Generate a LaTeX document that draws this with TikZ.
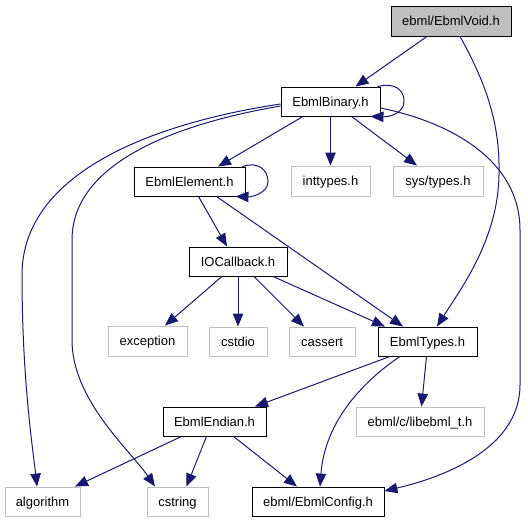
\documentclass[tikz,border=0pt]{standalone}
\usepackage{fontspec}
\setmainfont{Liberation Sans}
\usetikzlibrary{arrows.meta}
\definecolor{edgeblue}{RGB}{25,25,112}
\definecolor{lgray}{RGB}{191,191,191}
\begin{document}
\begin{tikzpicture}[x=1pt,y=-1pt,
  box/.style={draw=black,line width=0.9pt,inner sep=0pt,font=\fontsize{13}{15}\selectfont,text height=9.4pt,text depth=0.4pt,minimum height=29pt},
  sysbox/.style={box,draw=lgray},
  dep/.style={draw=edgeblue,line width=1pt,-{Triangle[length=13pt,width=10.5pt]}},
]
\useasboundingbox (0,0) rectangle (528,523);
\fill[white] (0,0) rectangle (528,523);
% nodes
\node[box,fill=lgray,minimum width=120pt,minimum height=30pt] (void) at (451,21) {ebml/EbmlVoid.h};
\node[box,minimum width=99pt] (binary) at (330.5,101.5) {EbmlBinary.h};
\node[box,minimum width=111pt] (element) at (189.5,181.5) {EbmlElement.h};
\node[sysbox,minimum width=79pt,minimum height=30pt] (inttypes) at (330.5,181) {inttypes.h};
\node[sysbox,minimum width=90pt,minimum height=30pt] (systypes) at (438,181) {sys/types.h};
\node[box,minimum width=98pt] (iocb) at (238,261.5) {IOCallback.h};
\node[sysbox,minimum width=79pt,minimum height=30pt] (exception) at (147.5,341) {exception};
\node[sysbox,minimum width=58pt] (cstdio) at (238,341.5) {cstdio};
\node[sysbox,minimum width=66pt] (cassert) at (322,341.5) {cassert};
\node[box,minimum width=99pt] (types) at (427.5,341.5) {EbmlTypes.h};
\node[sysbox,minimum width=128pt] (libt) at (420,421.5) {ebml/c/libebml\_t.h};
\node[box,minimum width=103pt] (endian) at (214.5,421.5) {EbmlEndian.h};
\node[sysbox,minimum width=75pt] (algorithm) at (42.5,501.5) {algorithm};
\node[sysbox,minimum width=61pt] (cstring) at (177.5,501.5) {cstring};
\node[box,minimum width=132pt] (config) at (318,501.5) {ebml/EbmlConfig.h};
% edges
\draw[dep] ([xshift=-24pt]void.south) -- ([xshift=25pt]binary.north);
\draw[dep] ([xshift=9pt]void.south) .. controls (490,90) and (500,130) .. (499,175)
  .. controls (498,240) and (460,290) .. ([xshift=9.5pt]types.north);
\draw[dep] ([xshift=-3pt]binary.north east) .. controls (395,82) and (404,90) .. (404,101)
  .. controls (404,113) and (390,117) .. ([xshift=-10pt]binary.south east);
\draw[dep] ([xshift=-27.5pt]binary.south) -- ([xshift=28.5pt]element.north);
\draw[dep] (binary.south) -- (inttypes.north);
\draw[dep] ([xshift=21pt]binary.south) -- ([xshift=-21pt]systypes.north);
\draw[dep] ([yshift=-2.5pt]binary.west) .. controls (160,122) and (22,170) .. (22,275)
  .. controls (22,380) and (33,450) .. ([xshift=-5.5pt]algorithm.north);
\draw[dep] ([yshift=-4.5pt]binary.west) .. controls (170,125) and (72,165) .. (72,240)
  -- (72,340) .. controls (72,400) and (130,450) .. ([xshift=-22.5pt]cstring.north);
\draw[dep] ([yshift=-6.5pt]binary.east) .. controls (450,122) and (520,160) .. (520,230)
  -- (520,385) .. controls (520,450) and (440,478) .. ([yshift=10.5pt]config.east);
\draw[dep] ([xshift=-3pt]element.north east) .. controls (258,161) and (268,170) .. (268,181.5)
  .. controls (268,193) and (252,197) .. ([xshift=-10pt]element.south east);
\draw[dep] ([xshift=9pt]element.south) -- ([xshift=-11pt]iocb.north);
\draw[dep] ([xshift=27pt]element.south) -- ([xshift=-24.5pt]types.north);
\draw[dep] ([xshift=-16pt]iocb.south) -- ([xshift=17.5pt]exception.north);
\draw[dep] (iocb.south) -- (cstdio.north);
\draw[dep] ([xshift=16pt]iocb.south) -- ([xshift=-18pt]cassert.north);
\draw[dep] ([xshift=35pt]iocb.south) -- ([xshift=-42.5pt]types.north);
\draw[dep] ([xshift=-37.5pt]types.south) -- ([xshift=40.5pt]endian.north);
\draw[dep] ([xshift=-1pt]types.south) -- ([xshift=1.5pt]libt.north);
\draw[dep] ([xshift=-27.5pt]types.south) .. controls (365,380) and (325,420) .. ([xshift=2pt]config.north);
\draw[dep] ([xshift=-33pt]endian.south) -- ([xshift=32.5pt]algorithm.north);
\draw[dep] ([xshift=-8pt]endian.south) -- ([xshift=9pt]cstring.north);
\draw[dep] ([xshift=19pt]endian.south) -- ([xshift=-21pt]config.north);
\end{tikzpicture}
\end{document}
